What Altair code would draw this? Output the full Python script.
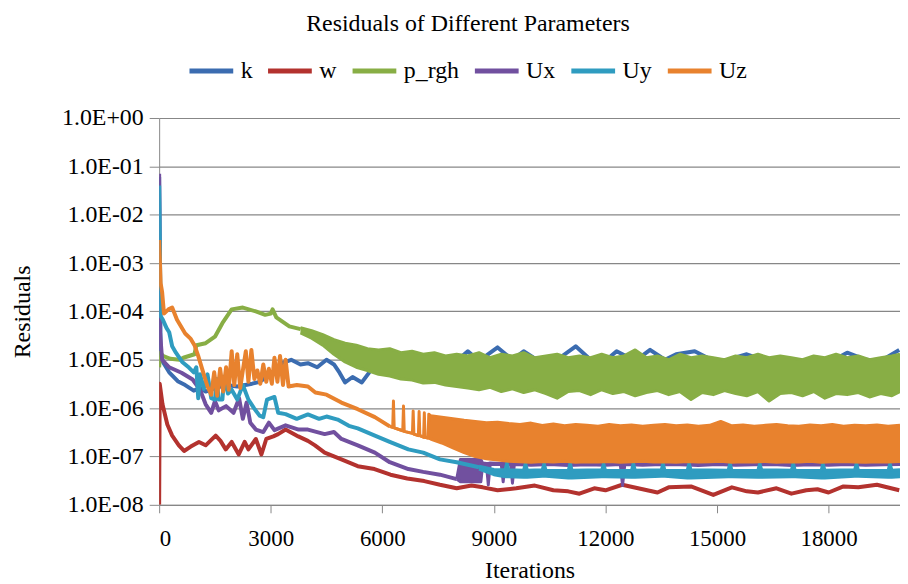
import altair as alt
import pandas as pd

NAMES = ["k", "w", "p_rgh", "Ux", "Uy", "Uz"]
COLORS = ["#3b6cb0", "#b3322e", "#88ae45", "#71509f", "#2f9cc0", "#e8822e"]
X_TICKS = [0, 3000, 6000, 9000, 12000, 15000, 18000]
Y_TICKS = [1e-8, 1e-7, 1e-6, 1e-5, 1e-4, 1e-3, 1e-2, 1e-1, 1.0]

# ---- k ----
k_it = [0, 40, 100, 270, 500, 700, 930, 1100, 1250, 1500, 1800, 2100, 2500, 2700, 3000,
        3300, 3550, 3800, 4000, 4250, 4500, 4700, 4850, 5000, 5200, 5450, 5650, 5900, 6200,
        6500, 6900, 7300, 7700, 8000, 8300, 8600, 9100, 9500, 9800, 10200, 10700, 11200,
        11600, 12000, 12300, 12800, 13200, 13600, 13900, 14400, 14900, 15300, 15800, 16300,
        16800, 17300, 17700, 18100, 18500, 19000, 19400, 19900]
k_val = [6e-2, 1.5e-5, 9e-6, 5.5e-6, 3.6e-6, 3.0e-6, 2.3e-6, 2.6e-6, 2.2e-6, 2.6e-6, 3.0e-6,
         2.8e-6, 3.2e-6, 3.5e-6, 5.0e-6, 8.5e-6, 1.0e-5, 8e-6, 8.5e-6, 7e-6, 1.0e-5, 8e-6,
         5.4e-6, 3.4e-6, 4.4e-6, 3.4e-6, 5.5e-6, 1.2e-5, 1.2e-5, 1.0e-5, 1.1e-5, 9.5e-6,
         1.05e-5, 9.5e-6, 1.5e-5, 9.5e-6, 1.8e-5, 1.0e-5, 1.5e-5, 9.5e-6, 1.0e-5, 1.9e-5,
         1.0e-5, 9.5e-6, 1.5e-5, 9.5e-6, 1.6e-5, 1.0e-5, 1.3e-5, 1.5e-5, 9.5e-6, 1.0e-5,
         1.3e-5, 9.5e-6, 1.0e-5, 9.5e-6, 1.1e-5, 9.5e-6, 1.4e-5, 1.0e-5, 9.5e-6, 1.6e-5]

# ---- w ----
w_it = [0, 15, 90, 220, 350, 530, 670, 850, 1070, 1250, 1520, 1650, 1790, 1950, 2140, 2300,
        2400, 2600, 2750, 2880, 3070, 3200, 3400, 3740, 4000, 4190, 4450, 4900, 5340, 5790,
        6220, 6670, 7130, 7550, 8000, 8400, 8700, 9100, 9600, 10100, 10600, 11000, 11300,
        11700, 12000, 12450, 13000, 13400, 13700, 14300, 14900, 15400, 15800, 16100, 16600,
        17000, 17400, 17700, 18000, 18400, 18800, 19300, 19900]
w_val = [1e-8, 3.2e-6, 1.2e-6, 4.6e-7, 2.7e-7, 1.7e-7, 1.3e-7, 1.6e-7, 2.0e-7, 1.7e-7,
         2.7e-7, 2.1e-7, 1.4e-7, 2.0e-7, 1.1e-7, 2.0e-7, 1.4e-7, 2.3e-7, 1.1e-7, 2.3e-7,
         2.6e-7, 2.9e-7, 3.6e-7, 2.6e-7, 2.1e-7, 1.7e-7, 1.2e-7, 8.7e-8, 6.3e-8, 5.5e-8,
         4.2e-8, 3.5e-8, 3.1e-8, 2.6e-8, 2.2e-8, 2.5e-8, 2.3e-8, 2.0e-8, 2.2e-8, 2.5e-8,
         2.0e-8, 1.9e-8, 1.7e-8, 2.2e-8, 2.0e-8, 2.6e-8, 2.1e-8, 1.8e-8, 2.3e-8, 2.4e-8,
         1.6e-8, 2.3e-8, 1.9e-8, 1.8e-8, 2.2e-8, 1.7e-8, 2.0e-8, 2.1e-8, 1.8e-8, 2.4e-8,
         2.3e-8, 2.6e-8, 2.0e-8]

# ---- p_rgh ----
p_it = [0, 30, 100, 300, 550, 650, 950, 1000, 1250, 1500, 1700, 1950, 2250, 2600, 2850,
        3000, 3050, 3150, 3500, 3800]
p_val = [7e-6, 1.4e-5, 1.2e-5, 1.05e-5, 1.0e-5, 1.1e-5, 1.3e-5, 2.0e-5, 2.2e-5, 3.0e-5,
         5.7e-5, 1.1e-4, 1.2e-4, 1.0e-4, 8.5e-5, 9e-5, 1.1e-4, 7.5e-5, 4.9e-5, 4.3e-5]
p_band_it = [3800, 4100, 4400, 4700, 5000, 5300, 5600, 5900, 6200, 6500, 6800, 7100, 7400,
             7700, 8000, 8300, 8600, 8900, 9200, 9500, 9800, 10100, 10400, 10700, 11000,
             11300, 11600, 11900, 12200, 12500, 12800, 13100, 13400, 13700, 14000, 14300,
             14600, 14900, 15200, 15500, 15800, 16100, 16400, 16700, 17000, 17300, 17600,
             17900, 18200, 18500, 18800, 19100, 19400, 19700, 19920]
p_band_hi = [4.6e-5, 4.0e-5, 3.3e-5, 2.6e-5, 2.2e-5, 2.0e-5, 1.7e-5, 1.6e-5, 1.7e-5, 1.4e-5,
             1.5e-5, 1.3e-5, 1.4e-5, 1.2e-5, 1.3e-5, 1.2e-5, 1.4e-5, 1.1e-5, 1.3e-5, 1.2e-5,
             1.4e-5, 1.1e-5, 1.2e-5, 1.3e-5, 1.1e-5, 1.2e-5, 1.1e-5, 1.3e-5, 1.1e-5, 1.2e-5,
             1.6e-5, 1.1e-5, 1.2e-5, 1.0e-5, 1.3e-5, 1.1e-5, 1.2e-5, 1.1e-5, 1.0e-5, 1.2e-5,
             1.1e-5, 1.3e-5, 1.1e-5, 1.2e-5, 1.1e-5, 1.0e-5, 1.2e-5, 1.1e-5, 1.3e-5, 1.1e-5,
             1.2e-5, 1.0e-5, 1.1e-5, 1.2e-5, 1.3e-5]
p_band_lo = [3.6e-5, 2.8e-5, 2.0e-5, 1.3e-5, 9e-6, 7e-6, 6e-6, 5e-6, 4.6e-6, 4.0e-6,
             3.8e-6, 3.3e-6, 3.4e-6, 3.0e-6, 2.8e-6, 2.6e-6, 2.4e-6, 2.7e-6, 2.2e-6, 2.5e-6,
             2.1e-6, 2.4e-6, 2.0e-6, 1.6e-6, 2.2e-6, 2.3e-6, 1.9e-6, 2.4e-6, 2.0e-6, 2.2e-6,
             1.8e-6, 2.1e-6, 2.3e-6, 1.9e-6, 2.2e-6, 1.5e-6, 2.1e-6, 1.9e-6, 2.3e-6, 2.0e-6,
             1.8e-6, 2.2e-6, 1.4e-6, 2.0e-6, 2.1e-6, 1.8e-6, 2.2e-6, 1.6e-6, 2.0e-6, 1.9e-6,
             2.1e-6, 1.7e-6, 2.0e-6, 1.8e-6, 2.2e-6]

# ---- Ux ----
ux_it = [0, 20, 80, 270, 600, 900, 1100, 1250, 1400, 1500, 1600, 1800, 2000, 2150, 2250,
         2350, 2450, 2600, 2800, 2950, 3100, 3400, 3750, 4000, 4450, 4700, 4900, 5340, 5800,
         6200, 6700, 7100, 7550, 8000]
ux_val = [7e-2, 4e-5, 1.0e-5, 7e-6, 5.4e-6, 3.9e-6, 2.4e-6, 1.2e-6, 8e-7, 1.4e-6, 9e-7,
          1.1e-6, 8e-7, 1.6e-6, 6e-7, 1.3e-6, 5e-7, 3.6e-7, 3.2e-7, 5e-7, 3.5e-7, 4.4e-7,
          3.6e-7, 3.6e-7, 2.9e-7, 3.2e-7, 2.3e-7, 1.7e-7, 1.2e-7, 7.6e-8, 5.5e-8, 4.8e-8,
          4.2e-8, 3.4e-8]
ux_band_it = [8000, 8100, 8650, 8700, 8800, 8850, 8900, 9200, 9250, 9300, 9450, 9500, 9550,
              10000, 10500, 11000, 11500, 12000, 12400, 12460, 12520, 13000, 13500, 14000,
              14500, 15000, 15500, 16000, 16500, 17000, 17500, 18000, 18500, 19000, 19500, 19920]
ux_band_lo = [3.4e-8, 3.0e-8, 3.0e-8, 6.8e-8, 6.8e-8, 2.6e-8, 6.8e-8, 6.8e-8, 3.0e-8, 6.8e-8,
              6.8e-8, 2.8e-8, 6.8e-8, 6.6e-8, 6.8e-8, 6.5e-8, 6.7e-8, 6.6e-8, 6.8e-8, 2.5e-8,
              6.8e-8, 6.6e-8, 6.8e-8, 6.7e-8, 6.5e-8, 6.8e-8, 6.6e-8, 6.7e-8, 6.8e-8, 6.5e-8,
              6.7e-8, 6.6e-8, 6.8e-8, 6.6e-8, 6.7e-8, 6.8e-8]
ux_band_hi = [3.4e-8, 8.7e-8, 8.7e-8, 7.3e-8, 7.2e-8, 7.2e-8, 7.3e-8, 7.2e-8, 7.3e-8, 7.2e-8,
              7.3e-8, 7.2e-8, 7.3e-8, 7.2e-8, 7.3e-8, 7.1e-8, 7.3e-8, 7.2e-8, 7.3e-8, 7.2e-8,
              7.3e-8, 7.2e-8, 7.3e-8, 7.2e-8, 7.1e-8, 7.3e-8, 7.2e-8, 7.3e-8, 7.2e-8, 7.1e-8,
              7.3e-8, 7.2e-8, 7.3e-8, 7.2e-8, 7.3e-8, 7.2e-8]

# ---- Uy ----
uy_it = [0, 40, 100, 200, 270, 350, 450, 620, 800, 930, 1000, 1050, 1100, 1200, 1300, 1400,
         1500, 1550, 1600, 1700, 1750, 1850, 1950, 2100, 2250, 2400, 2550, 2700, 2800, 2900,
         3100, 3200, 3400, 3700, 4000, 4300, 4500, 4800, 5100, 5340, 5800, 6200, 6700, 7100,
         7550, 8000, 8600]
uy_val = [4.0e-2, 8e-5, 6.7e-5, 4.5e-5, 3.7e-5, 1.9e-5, 1.4e-5, 9e-6, 6.9e-6, 5.5e-6, 7e-6,
          1.6e-6, 5e-6, 2.5e-6, 5e-6, 1.6e-6, 1.5e-6, 4e-6, 1.5e-6, 1.5e-6, 4.5e-6, 2e-6,
          2.4e-6, 1.5e-6, 3e-6, 1.5e-6, 1.0e-6, 7e-7, 6.5e-7, 1.5e-6, 1.7e-6, 8e-7, 7.5e-7,
          6e-7, 7.4e-7, 6e-7, 6.7e-7, 5.8e-7, 4.3e-7, 3.8e-7, 2.7e-7, 2.0e-7, 1.4e-7, 1.2e-7,
          8.7e-8, 7.6e-8, 6.0e-8]
uy_band_it = [8600, 9000, 9300, 9350, 9400, 9800, 9850, 9900, 10300, 10350, 10400, 11000,
              11050, 11100, 11900, 11950, 12000, 12700, 12750, 12800, 13500, 13550, 13600,
              14200, 14250, 14300, 15300, 15350, 15400, 16100, 16150, 16200, 17000, 17050,
              17100, 17800, 17850, 17900, 18700, 18750, 18800, 19600, 19650, 19700, 19920]
uy_band_hi = [6.3e-8, 5.4e-8, 5.3e-8, 7.6e-8, 5.3e-8, 5.2e-8, 7.5e-8, 5.2e-8, 5.3e-8, 7.4e-8,
              5.2e-8, 5.1e-8, 7.6e-8, 5.2e-8, 5.3e-8, 7.3e-8, 5.2e-8, 5.1e-8, 7.5e-8, 5.2e-8,
              5.3e-8, 7.4e-8, 5.1e-8, 5.2e-8, 7.5e-8, 5.3e-8, 5.2e-8, 7.6e-8, 5.1e-8, 5.2e-8,
              7.4e-8, 5.3e-8, 5.2e-8, 7.5e-8, 5.2e-8, 5.1e-8, 7.3e-8, 5.2e-8, 5.3e-8, 7.5e-8,
              5.2e-8, 5.1e-8, 7.4e-8, 5.2e-8, 5.3e-8]
uy_band_lo = [5.5e-8, 4.2e-8, 3.8e-8, 3.8e-8, 3.8e-8, 3.7e-8, 3.7e-8, 3.7e-8, 3.9e-8, 3.9e-8,
              3.9e-8, 3.6e-8, 3.6e-8, 3.6e-8, 3.8e-8, 3.8e-8, 3.8e-8, 3.7e-8, 3.7e-8, 3.7e-8,
              3.9e-8, 3.9e-8, 3.9e-8, 3.6e-8, 3.6e-8, 3.6e-8, 3.8e-8, 3.8e-8, 3.8e-8, 3.7e-8,
              3.7e-8, 3.7e-8, 3.8e-8, 3.8e-8, 3.8e-8, 3.6e-8, 3.6e-8, 3.6e-8, 3.9e-8, 3.9e-8,
              3.9e-8, 3.7e-8, 3.7e-8, 3.7e-8, 3.8e-8]

# ---- Uz ----
uz_it = [0, 40, 80, 130, 250, 350, 480, 700, 850, 950, 1050, 1200, 1300, 1400, 1480, 1560,
         1640, 1720, 1800, 1870, 1950, 2020, 2100, 2180, 2250, 2330, 2400, 2480, 2560, 2640,
         2720, 2800, 2880, 2950, 3030, 3100, 3180, 3250, 3330, 3400, 3480, 3700, 4000, 4200,
         4500, 4900, 5340, 5800, 6200]
uz_val = [3.0e-3, 3.8e-4, 2.5e-4, 9e-5, 1.1e-4, 1.2e-4, 6.7e-5, 3.5e-5, 2.7e-5, 2.0e-5,
          1.2e-5, 5e-6, 2.8e-6, 1.9e-6, 5.5e-6, 1.8e-6, 6.5e-6, 2.2e-6, 7e-6, 2.4e-6, 1.5e-5,
          3e-6, 1.3e-5, 2.6e-6, 6e-6, 1.5e-5, 3.5e-6, 1.6e-5, 4e-6, 6e-6, 3.2e-6, 8e-6, 3.5e-6,
          6.5e-6, 3.2e-6, 1.1e-5, 3.5e-6, 1.2e-5, 3e-6, 1.0e-5, 2.8e-6, 3.0e-6, 2.8e-6, 2.1e-6,
          1.9e-6, 1.3e-6, 9.5e-7, 6.5e-7, 4.2e-7]
uz_band_it = [6200, 6280, 6300, 6320, 6550, 6570, 6590, 6810, 6830, 6850, 6970, 6990, 7010,
              7110, 7130, 7150, 7230, 7250, 7300, 7600, 7900, 8200, 8500, 8800, 9100, 9400,
              9700, 10000, 10300, 10600, 10900, 11200, 11500, 11800, 12100, 12400, 12700,
              13000, 13300, 13600, 13900, 14200, 14500, 14800, 15100, 15400, 15700, 16000,
              16300, 16600, 16900, 17200, 17500, 17800, 18100, 18400, 18700, 19000, 19300,
              19600, 19920]
uz_band_lo = [4.2e-7, 4.0e-7, 4.0e-7, 3.9e-7, 3.4e-7, 3.4e-7, 3.3e-7, 3.0e-7, 3.0e-7, 2.9e-7,
              2.7e-7, 2.7e-7, 2.7e-7, 2.5e-7, 2.5e-7, 2.5e-7, 2.4e-7, 2.4e-7, 2.3e-7, 1.9e-7,
              1.5e-7, 1.2e-7, 1.0e-7, 9e-8, 8.4e-8, 8.0e-8, 7.8e-8, 7.6e-8, 7.9e-8, 7.7e-8,
              8.0e-8, 7.6e-8, 7.8e-8, 7.7e-8, 7.9e-8, 7.6e-8, 7.8e-8, 8.0e-8, 7.7e-8, 7.8e-8,
              7.6e-8, 7.9e-8, 7.7e-8, 7.8e-8, 8.0e-8, 7.6e-8, 7.8e-8, 7.7e-8, 7.9e-8, 7.6e-8,
              7.8e-8, 7.7e-8, 8.0e-8, 7.6e-8, 7.8e-8, 7.9e-8, 7.7e-8, 7.6e-8, 7.8e-8, 7.7e-8,
              7.9e-8]
uz_band_hi = [4.2e-7, 4.0e-7, 1.4e-6, 3.9e-7, 3.4e-7, 1.1e-6, 3.3e-7, 3.0e-7, 8.7e-7, 2.9e-7,
              2.7e-7, 8.5e-7, 2.7e-7, 2.5e-7, 8.0e-7, 2.5e-7, 2.4e-7, 7.5e-7, 7.0e-7, 6.5e-7,
              6.0e-7, 5.6e-7, 5.3e-7, 5.0e-7, 5.1e-7, 4.8e-7, 4.6e-7, 4.9e-7, 4.4e-7, 4.7e-7,
              4.3e-7, 4.6e-7, 4.4e-7, 4.2e-7, 4.6e-7, 4.3e-7, 4.5e-7, 4.2e-7, 4.4e-7, 4.6e-7,
              4.3e-7, 4.5e-7, 4.2e-7, 4.4e-7, 5.3e-7, 4.3e-7, 4.5e-7, 4.2e-7, 4.4e-7, 4.6e-7,
              4.3e-7, 4.2e-7, 4.5e-7, 4.3e-7, 4.6e-7, 4.2e-7, 4.4e-7, 4.3e-7, 4.5e-7, 4.2e-7,
              4.4e-7]

LINES = {"k": (k_it, k_val), "w": (w_it, w_val), "p_rgh": (p_it, p_val),
         "Ux": (ux_it, ux_val), "Uy": (uy_it, uy_val), "Uz": (uz_it, uz_val)}
BANDS = {"p_rgh": (p_band_it, p_band_lo, p_band_hi),
         "Ux": (ux_band_it, ux_band_lo, ux_band_hi),
         "Uy": (uy_band_it, uy_band_lo, uy_band_hi),
         "Uz": (uz_band_it, uz_band_lo, uz_band_hi)}

FONT = "Liberation Serif"
GRID = "#878787"

color_scale = alt.Scale(domain=NAMES, range=COLORS)
x_scale = alt.Scale(domain=[0, 19920], nice=False, zero=False)
y_scale = alt.Scale(type="log", domain=[1e-8, 1.0], nice=False)

x_axis = alt.Axis(values=X_TICKS, format="d", title="Iterations", grid=False,
                  domainColor=GRID, tickColor=GRID, tickSize=8, labelPadding=15,
                  labelFontSize=23, titlePadding=8)
y_axis = alt.Axis(values=Y_TICKS, title="Residuals", grid=True, gridColor=GRID,
                  gridOpacity=1, gridWidth=1.2,
                  labelExpr="'1.0E' + (datum.value >= 1 ? '+00' : '-0' + round(-log(datum.value) / LN10))",
                  domainColor=GRID, tickColor=GRID, tickSize=10, labelPadding=6,
                  labelFontSize=24, titlePadding=27)

legend = alt.Legend(orient="none", legendX=28, legendY=-72, direction="horizontal",
                    columns=6, title=None, symbolType="stroke", symbolSize=1936,
                    symbolStrokeWidth=5, labelOffset=5, columnPadding=5,
                    labelExpr="datum.label == 'p_rgh' ? 'p_rgh\u00a0\u00a0\u00a0' : datum.label")

layers = []
first = True
for name in NAMES:
    xs, ys = LINES[name]
    df = pd.DataFrame({"it": xs, "v": ys, "s": name})
    layers.append(
        alt.Chart(df).mark_line(strokeWidth=4, strokeJoin="round", clip=True).encode(
            x=alt.X("it:Q", scale=x_scale, axis=x_axis),
            y=alt.Y("v:Q", scale=y_scale, axis=y_axis),
            color=alt.Color("s:N", scale=color_scale, legend=legend if first else None),
            order=alt.Order("it:Q"),
        )
    )
    first = False
    if name in BANDS:
        bx, blo, bhi = BANDS[name]
        bdf = pd.DataFrame({"it": bx, "lo": blo, "hi": bhi, "s": name})
        base = alt.Chart(bdf)
        layers.append(
            base.mark_area(opacity=1, clip=True).encode(
                x=alt.X("it:Q", scale=x_scale, axis=x_axis),
                y=alt.Y("lo:Q", scale=y_scale, axis=y_axis),
                y2="hi:Q",
                color=alt.Color("s:N", scale=color_scale, legend=None),
            )
        )
        for edge in ["lo", "hi"]:
            layers.append(
                base.mark_line(strokeWidth=3, strokeJoin="round", clip=True).encode(
                    x=alt.X("it:Q", scale=x_scale, axis=x_axis),
                    y=alt.Y(f"{edge}:Q", scale=y_scale, axis=y_axis),
                    color=alt.Color("s:N", scale=color_scale, legend=None),
                )
            )

chart = alt.layer(*layers).properties(
    width=745,
    height=389,
    autosize=alt.AutoSizeParams(type="none"),
    padding={"left": 152, "top": 109, "right": 0, "bottom": 76},
    title=alt.TitleParams("Residuals of Different Parameters", anchor="middle", dx=-62,
                          dy=-6),
    background="white",
).configure(
    font=FONT
).configure_axis(
    labelFont=FONT, labelColor="black",
    titleFont=FONT, titleFontSize=24, titleFontWeight="normal", titleColor="black",
).configure_legend(
    labelFont=FONT, labelFontSize=24, labelColor="black",
).configure_title(
    font=FONT, fontSize=24, fontWeight="normal", color="black",
).configure_view(stroke=None)

chart.save("out.html", embed_options={"renderer": "svg", "actions": False})
